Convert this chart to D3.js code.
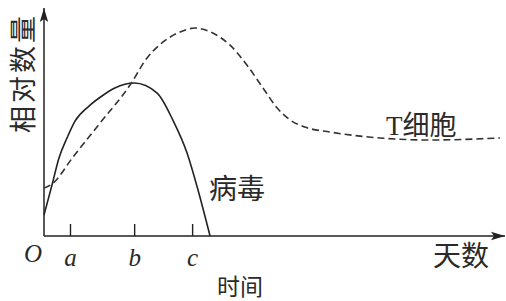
<!DOCTYPE html>
<html><head><meta charset="utf-8">
<script src="https://cdn.jsdelivr.net/npm/d3@7"></script>
<style>
html,body{margin:0;padding:0;background:#fff;}
svg{display:block;}
.cjk{font-family:"Noto Sans CJK SC","Noto Sans",sans-serif;fill:#2a2a2a;}
.lat{font-family:"Liberation Serif","DejaVu Serif",serif;font-style:italic;fill:#2a2a2a;}
</style></head>
<body>
<svg id="chart" width="506" height="301"></svg>
<script>
// ---- data (x: relative days 0-100, y: relative amount 0-100) ----
const virusX = [0, 1.74, 3.26, 5, 6.74, 9.78, 12.6, 15.4, 19.6, 24.6, 28, 31.1, 33.3, 36.1];
const virusY = [9.2, 22.4, 34.2, 43, 50.4, 57, 61.4, 64.9, 67.1, 62.7, 50.9, 36.4, 21.5, 0];
const tcellX = [0, 1.74, 6.3, 12.2, 18.7, 22.4, 25.9, 29.6, 32.8, 36.7, 40.4, 44.1, 47.6, 50.7, 53.5, 56.7, 62.2, 73, 83.9, 99.1];
const tcellY = [21, 22.8, 34.6, 49.6, 66.2, 78.1, 85.1, 89.5, 91.2, 89, 83.8, 75, 64.9, 56.1, 50.9, 47.8, 45.6, 43, 42.1, 43];
const tickValues = [5.65, 19.6, 32.2];
const tickLabels = ["a", "b", "c"];
const xTitle = "天数";
const xSubTitle = "时间";
const yTitle = "相对数量";
const virusLabel = "病毒";
const tcellLabel = "T细胞";
const originLabel = "O";

const svg = d3.select("#chart");
const x = d3.scaleLinear().domain([0, 100]).range([44, 504]);
const y = d3.scaleLinear().domain([0, 100]).range([236, 8]);

// arrow marker
const defs = svg.append("defs");
defs.append("marker").attr("id","arr").attr("markerUnits","userSpaceOnUse")
  .attr("markerWidth",20).attr("markerHeight",12).attr("refX",14).attr("refY",5)
  .attr("orient","auto").attr("viewBox","0 0 20 10")
  .append("path").attr("d","M14,5 L0,0.8 L3,5 L0,9.2 Z").attr("fill","#222");

// axes lines
svg.append("line").attr("x1",x(0)).attr("y1",y(0)).attr("x2",x(0)).attr("y2",y(100))
  .attr("stroke","#222").attr("stroke-width",1.5).attr("marker-end","url(#arr)");
svg.append("line").attr("x1",x(0)).attr("y1",y(0)).attr("x2",x(100)+1).attr("y2",y(0))
  .attr("stroke","#222").attr("stroke-width",1.5).attr("marker-end","url(#arr)");

// x ticks via d3 axis
const ax = d3.axisBottom(x).tickValues(tickValues)
  .tickFormat((d,i)=>tickLabels[i]).tickSizeInner(-12).tickSizeOuter(0).tickPadding(12);
const g = svg.append("g").attr("transform",`translate(0,${y(0)})`).call(ax);
g.select(".domain").remove();
g.selectAll(".tick line").attr("stroke","#222").attr("stroke-width",1.4);
g.selectAll(".tick text").attr("class","lat").attr("font-size",25).attr("fill","#2a2a2a")
  .style("font-family","'Liberation Serif',serif").style("font-style","italic");

// origin
svg.append("text").attr("class","lat").attr("x",33).attr("y",262).attr("text-anchor","middle")
  .attr("font-size",25).text(originLabel);

// curves
const line = d3.line().x(d=>x(d[0])).y(d=>y(d[1])).curve(d3.curveMonotoneX);
svg.append("path").datum(virusX.map((v,i)=>[v,virusY[i]])).attr("d",line)
  .attr("fill","none").attr("stroke","#222").attr("stroke-width",1.6);
svg.append("path").datum(tcellX.map((v,i)=>[v,tcellY[i]])).attr("d",line)
  .attr("fill","none").attr("stroke","#333").attr("stroke-width",1.6)
  .attr("stroke-dasharray","7,4");

// labels
svg.append("text").attr("class","cjk").attr("font-size",27).attr("letter-spacing",3)
  .attr("dominant-baseline","central")
  .attr("transform","translate(21,73) rotate(-90)").attr("text-anchor","middle").text(yTitle);
svg.append("text").attr("class","cjk").attr("font-size",28).attr("x",461).attr("y",266)
  .attr("text-anchor","middle").text(xTitle);
svg.append("text").attr("class","cjk").attr("font-size",23).attr("x",240).attr("y",295)
  .attr("text-anchor","middle").text(xSubTitle);
svg.append("text").attr("class","cjk").attr("font-size",28).attr("x",237).attr("y",199)
  .attr("text-anchor","middle").text(virusLabel);
const tl = svg.append("text").attr("class","cjk").attr("font-size",27).attr("x",386).attr("y",135);
tl.append("tspan").style("font-family","'Liberation Serif',serif").text(tcellLabel.slice(0,1));
tl.append("tspan").text(tcellLabel.slice(1));
</script>
</body></html>
